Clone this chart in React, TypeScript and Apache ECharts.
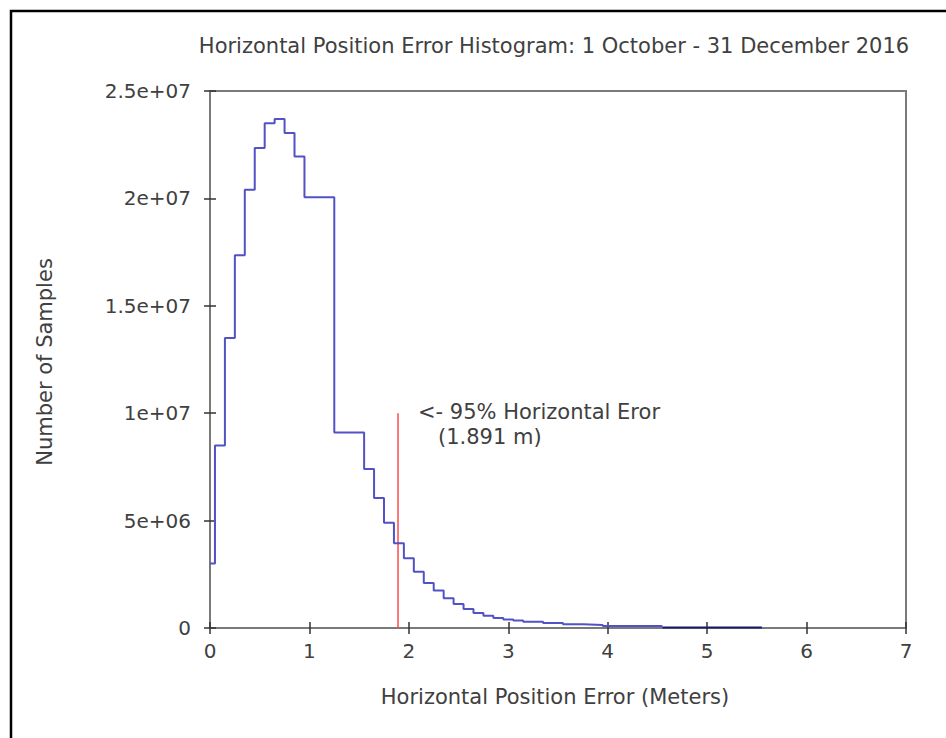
import React, { useEffect, useRef } from "react";
import * as echarts from "echarts";

const titleText = "Horizontal Position Error Histogram: 1 October - 31 December 2016";
const xAxisName = "Horizontal Position Error (Meters)";
const yAxisName = "Number of Samples";
const annotationLines = ["<- 95% Horizontal Eror", "(1.891 m)"];

const binEdges = [
  0, 0.05, 0.15, 0.25, 0.35, 0.45, 0.55, 0.65, 0.75, 0.85, 0.95, 1.25, 1.55,
  1.65, 1.75, 1.85, 1.95, 2.05, 2.15, 2.25, 2.35, 2.45, 2.55, 2.65, 2.75, 2.85,
  2.95, 3.05, 3.15, 3.35, 3.55, 3.75, 3.95, 4.55,
];
const binCounts = [
  3.0e6, 8.5e6, 13.5e6, 17.35e6, 20.4e6, 22.35e6, 23.5e6, 23.7e6, 23.05e6,
  21.95e6, 20.05e6, 9.1e6, 7.4e6, 6.05e6, 4.9e6, 3.95e6, 3.25e6, 2.62e6, 2.1e6,
  1.74e6, 1.38e6, 1.12e6, 0.88e6, 0.7e6, 0.57e6, 0.47e6, 0.4e6, 0.35e6, 0.29e6,
  0.23e6, 0.17e6, 0.14e6, 0.09e6,
];
const tailEdges = [4.55, 5.55];
const tailCounts = [0.02e6];

const errorX = 1.891;
const errorTop = 1e7;

const xTicks = [0, 1, 2, 3, 4, 5, 6, 7];
const yTickLabels = ["0", "5e+06", "1e+07", "1.5e+07", "2e+07", "2.5e+07"];

function stepPoints(edges: number[], counts: number[]) {
  const pts: number[][] = [];
  for (let i = 0; i < counts.length; i++) {
    pts.push([edges[i], counts[i]]);
    pts.push([edges[i + 1], counts[i]]);
  }
  return pts;
}

const FONT = "DejaVu Sans";
const TEXT_COLOR = "#404040";
const AXIS_COLOR = "#7a7a7a";

export default function App() {
  const ref = useRef<HTMLDivElement>(null);
  useEffect(() => {
    document.body.style.margin = "0";
    const chart = echarts.init(ref.current!, undefined, { renderer: "svg" });
    const axisCommon = {
      type: "value" as const,
      splitLine: { show: false },
      axisLine: { show: true, lineStyle: { color: AXIS_COLOR, width: 2 } },
      axisTick: { show: true, inside: true, length: 6, lineStyle: { color: "#333", width: 1.5 } },
    };
    const textStyle = (text: string, align: string) => ({
      text,
      fontFamily: FONT,
      fontSize: 21,
      fill: TEXT_COLOR,
      textAlign: align,
      textVerticalAlign: "middle",
    });
    chart.setOption({
      animation: false,
      backgroundColor: "#ffffff",
      grid: {
        left: 210,
        right: 40,
        top: 91,
        bottom: 110,
        show: true,
        borderColor: AXIS_COLOR,
        borderWidth: 2,
      },
      xAxis: [
        {
          ...axisCommon,
          min: xTicks[0],
          max: xTicks[xTicks.length - 1],
          interval: 1,
          axisLabel: {
            margin: 13,
            fontFamily: FONT,
            fontSize: 20,
            color: TEXT_COLOR,
          },
        },
        {
          ...axisCommon,
          position: "top",
          min: xTicks[0],
          max: xTicks[xTicks.length - 1],
          interval: 1,
          axisLabel: { show: false },
        },
      ],
      yAxis: [
        {
          ...axisCommon,
          min: 0,
          max: 2.5e7,
          interval: 5e6,
          axisLabel: {
            margin: 19,
            fontFamily: FONT,
            fontSize: 20,
            color: TEXT_COLOR,
            formatter: (v: number) => yTickLabels[Math.round(v / 5e6)],
          },
        },
        {
          ...axisCommon,
          position: "right",
          min: 0,
          max: 2.5e7,
          interval: 5e6,
          axisLabel: { show: false },
        },
      ],
      series: [
        {
          type: "line",
          data: stepPoints(binEdges, binCounts),
          showSymbol: false,
          lineStyle: { color: "#5252c6", width: 2 },
          z: 5,
        },
        {
          type: "line",
          data: stepPoints(tailEdges, tailCounts),
          showSymbol: false,
          lineStyle: { color: "#1a1a66", width: 2 },
          z: 5,
        },
        {
          type: "line",
          data: [
            [errorX, 0],
            [errorX, errorTop],
          ],
          showSymbol: false,
          lineStyle: { color: "#ff4a4a", width: 1.5 },
          z: 4,
        },
      ],
      graphic: [
        {
          type: "rect",
          shape: { x: 11, y: 11, width: 1000, height: 800 },
          style: { fill: "none", stroke: "#000", lineWidth: 2.5 },
          silent: true,
        },
        { type: "text", x: 554, y: 46, style: textStyle(titleText, "center") },
        { type: "text", x: 555, y: 697, style: textStyle(xAxisName, "center") },
        {
          type: "text",
          x: 45,
          y: 362,
          rotation: Math.PI / 2,
          style: textStyle(yAxisName, "center"),
        },
        { type: "text", x: 418, y: 412, style: textStyle(annotationLines[0], "left") },
        { type: "text", x: 438, y: 437, style: textStyle(annotationLines[1], "left") },
      ],
    });
    return () => chart.dispose();
  }, []);
  return <div ref={ref} style={{ width: 946, height: 738 }} />;
}
